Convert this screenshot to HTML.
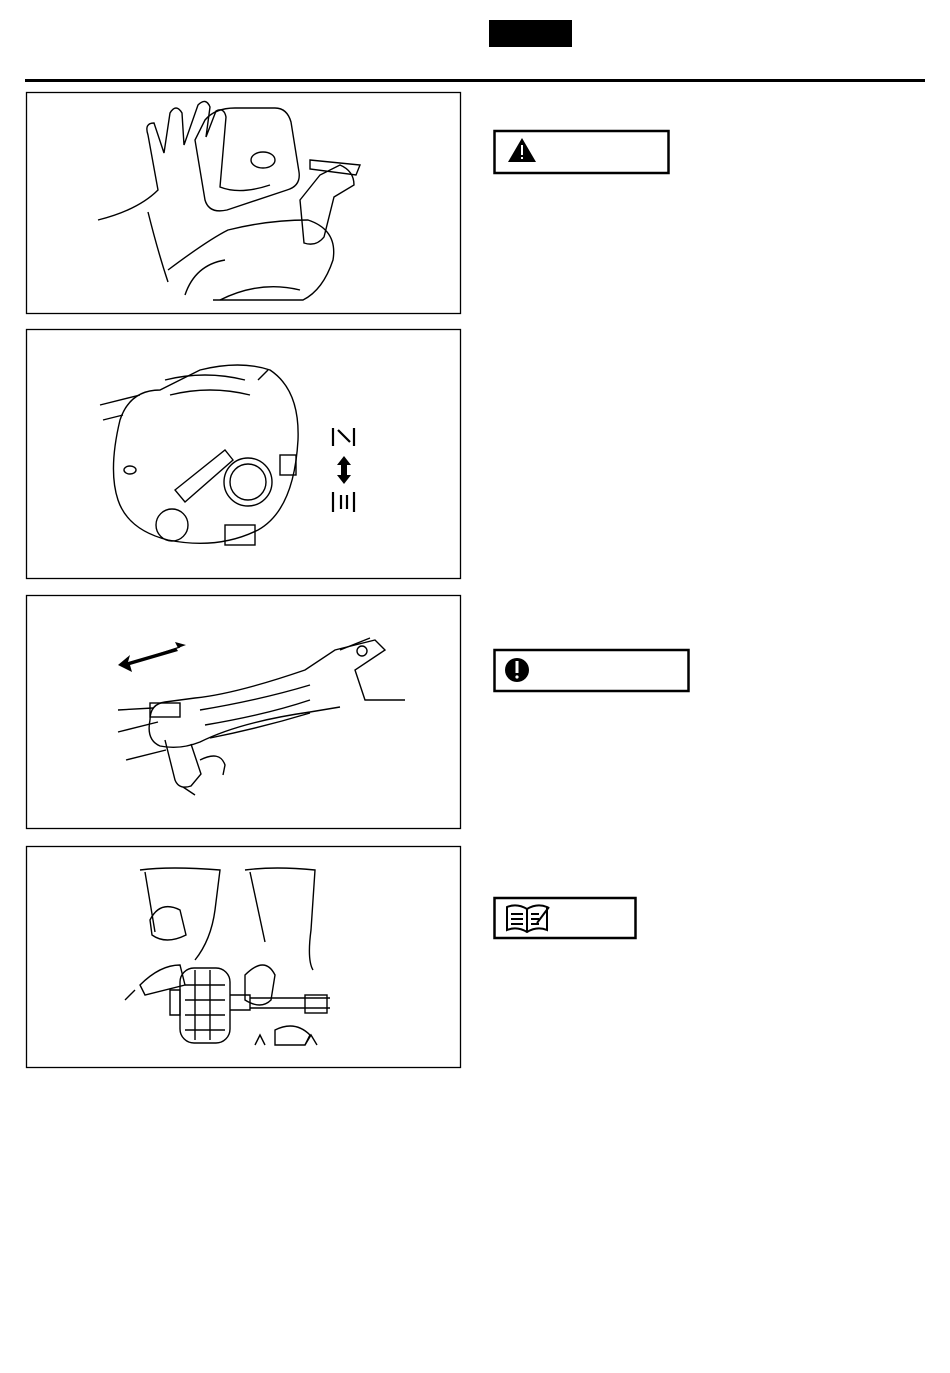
<!DOCTYPE html>
<html><head><meta charset="utf-8"><style>
html,body{margin:0;padding:0;background:#fff;}
body{width:950px;height:1368px;overflow:hidden;font-family:"Liberation Sans",sans-serif;}
</style></head><body>
<svg width="950" height="1368" viewBox="0 0 950 1368" xmlns="http://www.w3.org/2000/svg">
<rect x="489" y="20" width="83" height="27" fill="#000"/>
<rect x="25" y="79" width="900" height="3" fill="#000"/>
<g fill="none" stroke="#000" stroke-width="1.3">
<rect x="26.5" y="92.5" width="434" height="221"/>
<rect x="26.5" y="329.5" width="434" height="249"/>
<rect x="26.5" y="595.5" width="434" height="233"/>
<rect x="26.5" y="846.5" width="434" height="221"/>
</g>
<!-- callouts -->
<g fill="none" stroke="#000" stroke-width="2.5">
<rect x="494.5" y="131" width="174" height="42"/>
<rect x="494.5" y="650" width="194" height="41"/>
<rect x="494.5" y="898" width="141" height="40"/>
</g>
<polygon points="522,138 508,162 536,162" fill="#000"/>
<rect x="521" y="145" width="2" height="10" fill="#fff"/><rect x="521" y="157" width="2" height="2" fill="#fff"/>
<circle cx="517" cy="670" r="12" fill="#000"/>
<rect x="515.5" y="661" width="3" height="12" fill="#fff"/><circle cx="517" cy="677" r="1.6" fill="#fff"/>
<g fill="none" stroke="#000" stroke-width="2">
<path d="M507 907 q10 -4 20 2 q10 -6 20 -2 v23 q-10 -4 -20 2 q-10 -6 -20 -2z"/>
<path d="M527 909v23M511 914h12M511 919h12M511 924h12M531 914h8M531 919h8M531 924h8M537 923l12 -16"/>
</g>
<!-- panel 1 -->
<g fill="none" stroke="#000" stroke-width="1.4">
<path d="M98 220 q40 -10 60 -30 l-10 -55 q-4 -12 6 -12 l10 30 l6 -40 q6 -10 12 0 l2 32 l14 -40 q8 -8 12 2 l-4 30 l10 -26 q8 -4 10 6 l-6 70 q20 8 50 -2"/>
<path d="M148 212 q10 40 20 70"/>
<path d="M205 120 q10 -12 30 -12 h40 q12 0 16 14 l8 50 q2 14 -12 18 l-60 20 q-18 4 -22 -10 l-10 -60z"/>
<path d="M168 270 q40 -30 60 -40 q40 -10 80 -10 q30 10 25 40 q-10 30 -30 40 l-90 0"/>
<path d="M300 200 l20 -25 l20 -10 q14 6 14 20 l-20 12 l-10 40 q-8 10 -20 6z"/>
<path d="M310 160 l50 5 l-4 10 l-46 -6z"/>
<ellipse cx="263" cy="160" rx="12" ry="8"/>
<path d="M185 295 q10 -30 40 -35 M220 300 q40 -20 80 -10"/>
</g>
<!-- panel 2 -->
<g fill="none" stroke="#000" stroke-width="1.4">
<path d="M100 405 l40 -10 M103 420 l20 -5"/>
<path d="M120 420 q10 -30 40 -30 l40 -20 q40 -10 70 0 q30 20 28 70 q-4 70 -40 90 q-40 20 -90 10 q-40 -10 -50 -40 q-10 -30 2 -80z"/>
<circle cx="248" cy="482" r="24"/><circle cx="248" cy="482" r="18"/>
<circle cx="172" cy="525" r="16"/>
<path d="M175 490 l50 -40 l8 10 l-48 42z"/>
<rect x="225" y="525" width="30" height="20"/>
<path d="M258 380 l10 -10"/>
<path d="M165 380 q40 -10 80 0 M170 395 q40 -10 80 0"/>
<rect x="280" y="455" width="16" height="20"/>
<ellipse cx="130" cy="470" rx="6" ry="4"/>
</g>
<g stroke="#000" stroke-width="2.2" fill="none">
<path d="M333 428v18M354 428v18M338 430l12 12"/>
<path d="M333 492v20M354 492v20M341 495v14M347 495v14"/>
</g>
<polygon points="344,456 337,465 341,465 341,475 337,475 344,484 351,475 347,475 347,465 351,465" fill="#000"/>
<!-- panel 3 -->
<g fill="none" stroke="#000" stroke-width="1.4">
<path d="M125 665 l55 -18"/>
<path d="M118 732 l40 -10 M126 760 l40 -10"/>
<path d="M118 710 l35 -2"/>
<path d="M150 720 q0 -16 15 -18 l30 -4 q40 -4 110 -28 l30 -20 l40 -10 l10 10 l-30 20 l10 30 l40 0"/>
<path d="M150 720 q-4 20 10 26 q20 4 40 -4 q40 -20 110 -30 l30 -5"/>
<rect x="150" y="703" width="30" height="14"/>
<path d="M165 740 l10 40 q4 10 16 6 l10 -12 l-10 -30"/>
<path d="M200 760 q20 -10 25 5 l-2 10"/>
<circle cx="362" cy="651" r="5"/>
<path d="M195 795 l-12 -8 M340 650 l30 -12"/>
<path d="M200 710 q60 -10 110 -25 M205 725 q60 -10 105 -25 M210 738 q50 -10 100 -25"/>
</g>
<polygon points="118,665 130,655 128,662 176,648 178,651 130,665 132,672" fill="#000"/>
<polygon points="186,645 175,642 178,648" fill="#000"/>
<!-- panel 4 -->
<g fill="none" stroke="#000" stroke-width="1.4">
<path d="M140 870 q30 -4 80 0 l-5 40 q-4 30 -20 50 M145 872 l10 60"/>
<path d="M245 870 q30 -4 70 0 l-4 60 q-4 30 2 40 M250 872 l15 70"/>
<path d="M150 920 q10 -20 30 -10 l6 25 q-20 10 -34 0z"/>
<path d="M245 975 q20 -20 30 0 l-4 25 q-10 10 -26 0z"/>
<rect x="180" y="968" width="50" height="75" rx="14"/>
<path d="M185 985 h40 M185 1000 h40 M185 1015 h40 M185 1030 h40 M195 970 v70 M210 970 v70"/>
<path d="M170 990 h10 v25 h-10z M230 995 l20 0 v15 l-20 0 M250 998 h80 M250 1008 h80"/>
<rect x="305" y="995" width="22" height="18"/>
<path d="M140 985 q20 -20 40 -20 l5 20 l-40 10z"/>
<path d="M275 1030 q20 -10 35 5 l-5 10 h-30z"/>
<path d="M125 1000 l10 -10 M255 1045 l5 -10 l5 10 M305 1045 l6 -10 l6 10"/>
</g>
</svg>
</body></html>
